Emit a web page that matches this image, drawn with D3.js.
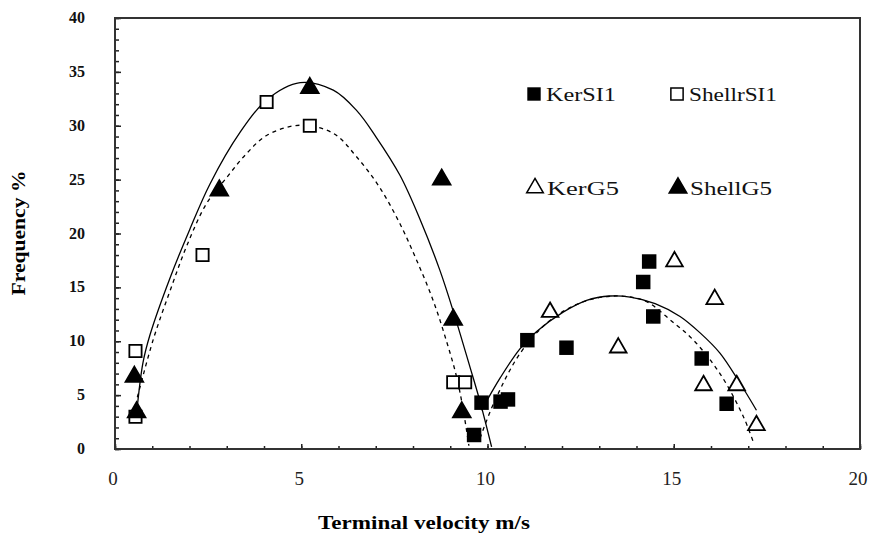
<!DOCTYPE html>
<html><head><meta charset="utf-8">
<script src="https://cdn.jsdelivr.net/npm/d3@7"></script>
<style>body{margin:0;background:#fff}svg{display:block}
svg text{font-family:"Liberation Serif","Times New Roman",Times,serif;}</style>
</head><body>
<svg id="c" width="871" height="536"></svg>
<script>
// ---- data ----
const xTicks = [0, 5, 10, 15, 20];
const yTicks = [0, 5, 10, 15, 20, 25, 30, 35, 40];
const seriesNames = ["KerSI1", "ShellrSI1", "KerG5", "ShellG5"];

const kerSI1 = [[9.64,1.3],[9.84,4.3],[10.35,4.4],[10.55,4.6],[11.07,10.1],[12.12,9.4],[14.18,15.5],[14.34,17.4],[14.45,12.3],[15.75,8.4],[16.42,4.2]];
const shellrSI1 = [[0.55,9.1],[0.55,3.0],[2.35,18.0],[4.07,32.2],[5.23,30.0],[9.08,6.2],[9.40,6.2]];
const kerG5 = [[11.68,12.7],[13.51,9.4],[15.02,17.4],[16.1,13.9],[15.8,5.9],[16.69,5.9],[17.22,2.2]];
const shellG5 = [[0.52,6.7],[0.58,3.4],[2.8,24.0],[5.23,33.5],[8.77,25.0],[9.08,12.0],[9.31,3.4]];

// trend curves
const fitShellG5 = [[0.58,3.3],[0.75,8.0],[0.94,10.6],[1.48,15.9],[2.01,20.4],[2.55,24.6],[3.36,29.4],[4.07,32.4],[4.97,34.0],[5.86,33.3],[6.49,31.4],[7.0,29.0],[7.65,25.4],[8.19,21.3],[8.72,16.6],[9.08,12.8],[9.53,7.6],[9.8,4.4],[10.11,0.2]];
const fitShellrSI1 = [[0.6,4.8],[1.03,10.2],[1.48,14.7],[1.92,18.8],[2.46,22.8],[3.0,25.2],[3.5,27.3],[4.07,29.1],[4.97,30.05],[5.86,29.3],[6.49,27.1],[7.1,24.3],[7.65,20.9],[8.1,17.5],[8.55,13.7],[8.9,10.0],[9.17,6.7],[9.35,3.6],[9.5,0.3]];
const fitKerSI1 = [[9.84,3.6],[10.34,6.6],[10.87,9.3],[11.32,10.9],[12.03,12.7],[12.66,13.8],[13.3,14.2],[13.83,14.1],[14.5,13.5],[15.17,12.3],[15.7,10.8],[16.24,8.9],[16.78,6.1],[17.22,3.6]];
const fitKerG5 = [[9.8,1.0],[10.2,4.5],[10.9,9.0],[11.7,12.0],[12.6,13.7],[13.4,14.2],[14.0,14.0],[14.36,13.5],[14.9,12.0],[15.53,10.1],[16.24,7.0],[16.87,3.0],[17.14,0.6]];

// ---- drawing ----
const svg = d3.select("#c");
const L = 115, R = 860, T = 18, B = 449;
const x = d3.scaleLinear().domain([0, 20]).range([L, R]);
const y = d3.scaleLinear().domain([0, 40]).range([B, T]);

// axes with inward ticks
const xMinor = d3.axisTop(x).tickValues(d3.range(0, 21, 1)).tickSize(3).tickFormat("");
const xMajor = d3.axisTop(x).tickValues(xTicks).tickSize(5).tickFormat("");
const yMinor = d3.axisRight(y).tickValues(d3.range(0, 41, 1)).tickSize(4).tickFormat("");
const yMajor = d3.axisRight(y).tickValues(yTicks).tickSize(6).tickFormat("");
[xMinor, xMajor].forEach(a => svg.append("g").attr("transform", `translate(0,${B})`).call(a)
  .call(g => { g.select(".domain").remove(); g.selectAll("line").attr("stroke", "#222").attr("stroke-width", 1.5); }));
[yMinor, yMajor].forEach(a => svg.append("g").attr("transform", `translate(${L},0)`).call(a)
  .call(g => { g.select(".domain").remove(); g.selectAll("line").attr("stroke", "#222").attr("stroke-width", 1.5); }));

// frame
svg.append("rect").attr("x", L).attr("y", T).attr("width", R - L).attr("height", B - T)
  .attr("fill", "none").attr("stroke", "#333").attr("stroke-width", 2);

// tick labels
svg.append("g").selectAll("text").data(yTicks).join("text")
  .attr("x", 85).attr("y", d => y(d) + 5).attr("text-anchor", "end")
  .attr("font-weight", "bold").attr("font-size", 16).attr("fill", "#111")
  .text(d => d);
svg.append("g").selectAll("text").data(xTicks).join("text")
  .attr("x", d => x(d) - 2).attr("y", 485).attr("text-anchor", "middle")
  .attr("font-size", 19).attr("fill", "#222")
  .text(d => d);

// axis titles
svg.append("text").attr("transform", "translate(25,233) rotate(-90)").attr("text-anchor", "middle")
  .attr("font-weight", "bold").attr("font-size", 18)
  .attr("textLength", 125).attr("lengthAdjust", "spacingAndGlyphs").text("Frequency %");
svg.append("text").attr("x", 424).attr("y", 529).attr("text-anchor", "middle")
  .attr("font-weight", "bold").attr("font-size", 19)
  .attr("textLength", 212).attr("lengthAdjust", "spacingAndGlyphs").text("Terminal velocity m/s");

// curves
const line = d3.line().x(d => x(d[0])).y(d => y(d[1])).curve(d3.curveCatmullRom.alpha(0.5));
const curves = [
  {d: fitShellG5, dash: null},
  {d: fitShellrSI1, dash: "4,4"},
  {d: fitKerSI1, dash: null},
  {d: fitKerG5, dash: "4,4"}
];
svg.append("g").selectAll("path").data(curves).join("path")
  .attr("d", c => line(c.d)).attr("fill", "none").attr("stroke", "#000")
  .attr("stroke-width", 1.3).attr("stroke-dasharray", c => c.dash);

// markers
const styles = {
  KerSI1: {type: d3.symbolSquare, size: 210, fill: "#000", stroke: "none"},
  ShellrSI1: {type: d3.symbolSquare, size: 150, fill: "#fff", stroke: "#000"},
  KerG5: {type: d3.symbolTriangle, size: 120, fill: "#fff", stroke: "#000"},
  ShellG5: {type: d3.symbolTriangle, size: 135, fill: "#000", stroke: "#000"}
};
const sets = {KerSI1: kerSI1, ShellrSI1: shellrSI1, KerG5: kerG5, ShellG5: shellG5};
seriesNames.forEach(n => {
  const s = styles[n];
  svg.append("g").selectAll("path").data(sets[n]).join("path")
    .attr("transform", d => `translate(${x(d[0])},${y(d[1])})`)
    .attr("d", d3.symbol(s.type, s.size))
    .attr("fill", s.fill).attr("stroke", s.stroke).attr("stroke-width", 1.8);
});

// legend
const leg = [
  {n: "KerSI1", px: 534, py: 94, tl: 70},
  {n: "ShellrSI1", px: 677, py: 94, tl: 88},
  {n: "KerG5", px: 535, py: 188, tl: 72},
  {n: "ShellG5", px: 678, py: 188, tl: 82}
];
leg.forEach(l => {
  const s = styles[l.n];
  svg.append("path").attr("transform", `translate(${l.px},${l.py})`)
    .attr("d", d3.symbol(s.type, l.n === "KerSI1" ? 180 : s.size))
    .attr("fill", s.fill).attr("stroke", s.stroke).attr("stroke-width", 1.5);
  svg.append("text").attr("x", l.px + 12).attr("y", l.py + 7)
    .attr("font-size", 19).attr("fill", "#111")
    .attr("textLength", l.tl).attr("lengthAdjust", "spacingAndGlyphs").text(l.n);
});
</script>
</body></html>
